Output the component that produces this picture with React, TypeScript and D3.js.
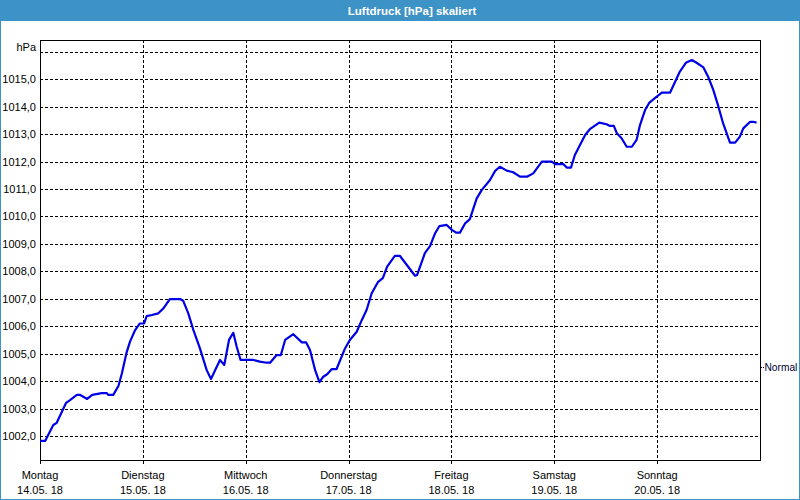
import { useRef, useEffect } from 'react';
import * as d3 from 'd3';

// Luftdruck, Stunden ab Montag 14.05.18 00:00 und Wert in hPa
const hours = [
  0, 1.2, 3.1, 3.9, 6.1, 7.0, 8.6, 9.3, 11.0, 12.2, 14.4, 15.6, 15.9, 17.1, 18.3, 19.1, 20.2, 21.0, 22.2, 23.3,
  24.3, 24.9, 26.1, 27.6, 28.8, 30.3, 32.7, 33.4, 34.6, 35.8, 37.3, 38.9, 39.9, 40.8, 42.0, 43.0, 44.1, 45.1, 45.9, 46.8,
  49.8, 51.3, 52.9, 53.7, 55.2, 56.2, 57.2, 59.1, 61.1, 62.1, 63.0, 64.2, 65.2, 66.1, 67.0, 68.1, 69.2, 71.2,
  72.3, 73.9, 75.1, 76.2, 77.4, 78.9, 80.0, 81.0, 82.8, 84.0, 85.6, 87.5, 88.0, 89.8, 91.0, 92.2, 93.2, 94.9,
  96.1, 97.1, 98.0, 99.2, 100.3, 101.9, 103.1, 105.0, 106.2, 107.3, 108.9, 110.4, 112.0, 113.6, 115.1, 117.1, 119.4,
  120.2, 122.1, 122.9, 123.9, 124.8, 126.0, 127.2, 128.3, 130.5, 132.2, 133.0, 133.9, 134.6, 135.7, 136.9, 138.1, 139.2,
  140.0, 141.2, 142.2, 143.9, 145.1, 147.0, 148.2, 149.3, 150.7, 152.1, 153.2, 154.8, 155.9, 157.1, 158.3, 159.4,
  161.0, 162.2, 163.3, 164.1, 165.7, 166.4, 167.2,
];
const pressure = [
  1001.82, 1001.82, 1002.4, 1002.48, 1003.21, 1003.31, 1003.5, 1003.5, 1003.35, 1003.5, 1003.56, 1003.56, 1003.5, 1003.5, 1003.82, 1004.28, 1005.04, 1005.44, 1005.86, 1006.1,
  1006.1, 1006.37, 1006.41, 1006.47, 1006.65, 1006.99, 1006.99, 1006.93, 1006.47, 1005.86, 1005.2, 1004.4, 1004.08, 1004.38, 1004.77, 1004.59, 1005.5, 1005.76, 1005.25, 1004.77,
  1004.77, 1004.71, 1004.67, 1004.67, 1004.95, 1004.95, 1005.5, 1005.71, 1005.41, 1005.41, 1005.13, 1004.4, 1003.96, 1004.16, 1004.25, 1004.44, 1004.44, 1005.2,
  1005.5, 1005.8, 1006.23, 1006.59, 1007.2, 1007.62, 1007.75, 1008.17, 1008.56, 1008.56, 1008.23, 1007.84, 1007.87, 1008.66, 1008.92, 1009.39, 1009.65, 1009.69,
  1009.51, 1009.41, 1009.41, 1009.75, 1009.9, 1010.66, 1010.97, 1011.33, 1011.66, 1011.81, 1011.67, 1011.61, 1011.45, 1011.45, 1011.57, 1012.0, 1012.0,
  1011.91, 1011.91, 1011.78, 1011.78, 1012.24, 1012.6, 1012.97, 1013.18, 1013.42, 1013.36, 1013.3, 1013.3, 1013.03, 1012.85, 1012.54, 1012.54, 1012.79,
  1013.33, 1013.88, 1014.15, 1014.37, 1014.51, 1014.51, 1014.91, 1015.28, 1015.6, 1015.7, 1015.6, 1015.43, 1015.09, 1014.61, 1014.0, 1013.39,
  1012.69, 1012.69, 1012.91, 1013.21, 1013.45, 1013.45, 1013.42,
];

const dayNames = ['Montag', 'Dienstag', 'Mittwoch', 'Donnerstag', 'Freitag', 'Samstag', 'Sonntag'];
const dayDates = ['14.05. 18', '15.05. 18', '16.05. 18', '17.05. 18', '18.05. 18', '19.05. 18', '20.05. 18'];
const yTicks = [1002, 1003, 1004, 1005, 1006, 1007, 1008, 1009, 1010, 1011, 1012, 1013, 1014, 1015];
const yGrid = [...yTicks, 1016];

const START = new Date(2018, 4, 14);
const END = new Date(2018, 4, 21);
const Y_DOMAIN: [number, number] = [1001.125, 1016.43];

const WIDTH = 800;
const HEIGHT = 500;
const PLOT = { left: 40, top: 40, right: 760, bottom: 460 };
const BLUE = '#3d92c6';
const FONT = '"Liberation Sans", Arial, sans-serif';

export default function App() {
  const svgRef = useRef<SVGSVGElement>(null);

  useEffect(() => {
    document.body.style.margin = '0';
    if (!svgRef.current) return;
    const svg = d3.select(svgRef.current);
    svg.selectAll('*').remove();

    const x = d3.scaleTime().domain([START, END]).range([PLOT.left, PLOT.right]);
    const y = d3.scaleLinear().domain(Y_DOMAIN).range([PLOT.bottom, PLOT.top]);

    const days = dayNames.map((_, i) => d3.timeDay.offset(START, i));
    const points = hours.map((h, i) => ({ date: new Date(START.getTime() + h * 3600000), v: pressure[i] }));

    // background + window frame
    svg.append('rect').attr('width', WIDTH).attr('height', HEIGHT).attr('fill', '#fff');
    svg.append('rect').attr('width', WIDTH).attr('height', 21).attr('fill', BLUE);
    svg.append('rect')
      .attr('x', 0.5).attr('y', 0.5).attr('width', WIDTH - 1).attr('height', HEIGHT - 1)
      .attr('fill', 'none').attr('stroke', BLUE).attr('stroke-width', 1);

    svg.append('text')
      .attr('x', 412).attr('y', 14.5)
      .attr('text-anchor', 'middle')
      .attr('font-family', FONT).attr('font-size', '11.5px').attr('font-weight', 'bold')
      .attr('fill', '#fff')
      .text('Luftdruck [hPa] skaliert');

    // grid
    const grid = svg.append('g')
      .attr('stroke', '#000').attr('stroke-dasharray', '3,2').attr('shape-rendering', 'crispEdges');
    grid.selectAll('line.h').data(yGrid).join('line').attr('class', 'h')
      .attr('x1', PLOT.left).attr('x2', PLOT.right)
      .attr('y1', (d) => Math.round(y(d)) + 0.5).attr('y2', (d) => Math.round(y(d)) + 0.5);
    grid.selectAll('line.v').data(days.slice(1)).join('line').attr('class', 'v')
      .attr('x1', (d) => Math.round(x(d)) + 0.5).attr('x2', (d) => Math.round(x(d)) + 0.5)
      .attr('y1', PLOT.top).attr('y2', PLOT.bottom);

    // y axis labels
    svg.append('g')
      .attr('transform', `translate(${PLOT.left},0)`)
      .call(
        d3.axisLeft(y)
          .tickValues(yTicks)
          .tickSize(0)
          .tickPadding(4)
          .tickFormat((d) => (d as number).toFixed(1).replace('.', ',')),
      )
      .call((g) => g.select('.domain').remove())
      .selectAll('text')
      .attr('font-family', FONT).attr('font-size', '11px').attr('fill', '#000');

    svg.append('text')
      .attr('x', 36).attr('y', 51)
      .attr('text-anchor', 'end')
      .attr('font-family', FONT).attr('font-size', '11px')
      .text('hPa');

    // x axis ticks + two-line labels
    svg.append('g')
      .attr('transform', `translate(0,${PLOT.bottom})`)
      .call(d3.axisBottom(x).tickValues(days).tickSize(4).tickFormat(() => ''))
      .call((g) => g.select('.domain').remove())
      .selectAll('line').attr('shape-rendering', 'crispEdges');

    const labels = svg.append('g').attr('font-family', FONT).attr('font-size', '11px').attr('text-anchor', 'middle');
    labels.selectAll('text').data(days).join('text')
      .attr('x', (d) => x(d))
      .attr('y', 479)
      .text((_, i) => dayNames[i])
      .append('tspan')
      .attr('x', (d) => x(d))
      .attr('dy', 15)
      .text((_, i) => dayDates[i]);

    // plot frame
    svg.append('rect')
      .attr('x', PLOT.left + 0.5).attr('y', PLOT.top + 0.5)
      .attr('width', PLOT.right - PLOT.left).attr('height', PLOT.bottom - PLOT.top)
      .attr('fill', 'none').attr('stroke', '#000').attr('shape-rendering', 'crispEdges');

    // line
    const line = d3.line<{ date: Date; v: number }>()
      .x((d) => x(d.date))
      .y((d) => y(d.v));
    svg.append('path')
      .datum(points)
      .attr('fill', 'none')
      .attr('stroke', '#0000e6')
      .attr('stroke-width', 2.2)
      .attr('stroke-linejoin', 'round')
      .attr('d', line);

    // "Normal" marker on the right
    svg.append('line')
      .attr('x1', PLOT.right + 1).attr('x2', PLOT.right + 4)
      .attr('y1', 367.5).attr('y2', 367.5)
      .attr('stroke', '#000').attr('stroke-dasharray', '1,1');
    svg.append('text')
      .attr('x', PLOT.right + 4.5).attr('y', 371)
      .attr('font-family', FONT).attr('font-size', '10.2px').attr('fill', '#000033')
      .text('Normal');
  }, []);

  return <svg ref={svgRef} width={WIDTH} height={HEIGHT} style={{ display: 'block' }} />;
}
